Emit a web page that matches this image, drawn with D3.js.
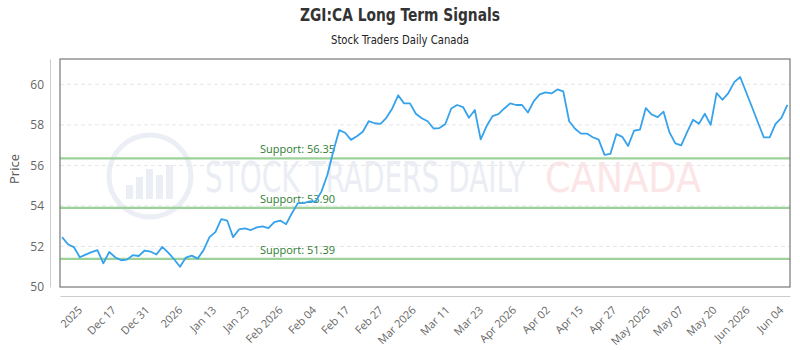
<!DOCTYPE html>
<html>
<head>
<meta charset="utf-8">
<script src="https://cdn.jsdelivr.net/npm/d3@7"></script>
<style>
  body { margin: 0; background: #fff; }
  svg { display: block; }
</style>
</head>
<body>
<svg id="chart" width="800" height="350"></svg>
<script>
"use strict";

// Daily closes, oldest first
const prices = [
    52.46, 52.11, 51.97, 51.47, 51.60, 51.72, 51.82, 51.17, 51.73, 51.47,
    51.32, 51.35, 51.57, 51.53, 51.80, 51.75, 51.60, 51.98, 51.70, 51.37,
    51.00, 51.45, 51.55, 51.40, 51.82, 52.46, 52.71, 53.35, 53.28, 52.46,
    52.84, 52.89, 52.81, 52.94, 52.99, 52.90, 53.20, 53.28, 53.10, 53.65,
    54.14, 54.14, 54.22, 54.22, 54.72, 55.54, 56.70, 57.74, 57.61, 57.26,
    57.44, 57.66, 58.18, 58.08, 58.05, 58.35, 58.81, 59.46, 59.06, 59.06,
    58.55, 58.33, 58.18, 57.82, 57.84, 58.04, 58.81, 58.98, 58.88, 58.35,
    58.73, 57.28, 57.94, 58.43, 58.53, 58.81, 59.06, 58.98, 58.98, 58.61,
    59.17, 59.50, 59.60, 59.55, 59.75, 59.65, 58.18, 57.81, 57.57, 57.57,
    57.39, 57.27, 56.52, 56.57, 57.54, 57.41, 56.96, 57.71, 57.76, 58.83,
    58.51, 58.38, 58.65, 57.64, 57.09, 56.99, 57.64, 58.25, 58.05, 58.55,
    58.00, 59.57, 59.24, 59.57, 60.11, 60.36, 59.62, 58.88, 58.13, 57.39,
    57.38, 58.05, 58.35, 58.99
];

// Support levels
const supports = [56.35, 53.90, 51.39];

// X tick labels and where they sit (in data index units)
const tickLabels = ["2025", "Dec 17", "Dec 31", "2026", "Jan 13", "Jan 23", "Feb 2026",
    "Feb 04", "Feb 17", "Feb 27", "Mar 2026", "Mar 11", "Mar 23", "Apr 2026", "Apr 02",
    "Apr 15", "Apr 27", "May 2026", "May 07", "May 20", "Jun 2026", "Jun 04"];
const tickAt = [3.0, 8.7, 14.4, 20.0, 25.7, 31.3, 37.0, 42.7, 48.3, 54.0, 59.6,
    65.3, 71.0, 76.6, 82.3, 87.9, 93.6, 99.3, 104.9, 110.6, 116.2, 121.9];

// Y ticks
const yTicks = [50, 52, 54, 56, 58, 60];

const margin = {top: 59, right: 10, bottom: 63, left: 60},
    width = 800 - margin.left - margin.right,
    height = 350 - margin.top - margin.bottom;

const svg = d3.select("#chart");

// Titles
svg.append("text")
    .attr("x", 400).attr("y", 21)
    .attr("text-anchor", "middle")
    .attr("textLength", 200)
    .attr("lengthAdjust", "spacingAndGlyphs")
    .style("font-family", "'DejaVu Sans Condensed', sans-serif")
    .style("font-weight", "bold")
    .style("font-size", "17px")
    .style("fill", "#333")
    .text("ZGI:CA Long Term Signals");

svg.append("text")
    .attr("x", 400).attr("y", 44)
    .attr("text-anchor", "middle")
    .attr("textLength", 138)
    .attr("lengthAdjust", "spacingAndGlyphs")
    .style("font-family", "'DejaVu Sans Condensed', sans-serif")
    .style("font-size", "12px")
    .style("fill", "#222")
    .text("Stock Traders Daily Canada");

const x = d3.scaleLinear()
    .domain([-0.35, prices.length - 1 + 0.45])
    .range([0, width]);

const y = d3.scaleLinear()
    .domain([50, 61.25])
    .range([height, 0]);

const plot = svg.append("g")
    .attr("transform", "translate(" + margin.left + "," + margin.top + ")");

// Watermark
const wm = plot.append("g").attr("opacity", 0.6);
wm.append("circle")
    .attr("cx", 90).attr("cy", 117).attr("r", 41)
    .attr("fill", "none")
    .attr("stroke", "#dfe6f0")
    .attr("stroke-width", 5);
wm.selectAll("rect.wmbar")
    .data([14, 22, 30, 24, 34])
    .enter()
    .append("rect")
    .attr("class", "wmbar")
    .attr("x", (d, i) => 66 + i * 10)
    .attr("y", (d) => 140 - d)
    .attr("width", 7)
    .attr("height", (d) => d)
    .attr("fill", "#dfe6f0");
wm.append("text")
    .attr("x", 145).attr("y", 133)
    .attr("textLength", 320)
    .attr("lengthAdjust", "spacingAndGlyphs")
    .style("font-family", "'DejaVu Sans Condensed', sans-serif")
    .style("font-size", "42px")
    .style("fill", "#dde3ee")
    .text("STOCK TRADERS DAILY");
wm.append("text")
    .attr("x", 485).attr("y", 133)
    .attr("textLength", 156)
    .attr("lengthAdjust", "spacingAndGlyphs")
    .style("font-family", "'DejaVu Sans', sans-serif")
    .style("font-size", "40px")
    .style("fill", "#fbd5d8")
    .text("CANADA");

// Dashed gridlines
plot.selectAll("line.grid")
    .data(yTicks.slice(1))
    .enter()
    .append("line")
    .attr("class", "grid")
    .attr("x1", 0).attr("x2", width)
    .attr("y1", (d) => y(d)).attr("y2", (d) => y(d))
    .attr("stroke", "#e6e6e6")
    .attr("stroke-dasharray", "4,3");

// Support lines + labels
plot.selectAll("line.support")
    .data(supports)
    .enter()
    .append("line")
    .attr("class", "support")
    .attr("x1", 0).attr("x2", width)
    .attr("y1", (d) => y(d)).attr("y2", (d) => y(d))
    .attr("stroke", "#9dd19a")
    .attr("stroke-width", 2.2);

plot.selectAll("text.support")
    .data(supports)
    .enter()
    .append("text")
    .attr("class", "support")
    .attr("x", 200)
    .attr("y", (d) => y(d) - 5)
    .style("font-family", "'Open Sans', sans-serif")
    .style("font-size", "11px")
    .style("fill", "#2e7d32")
    .text((d) => `Support: ${d.toFixed(2)}`);

// Price line
plot.append("path")
    .datum(prices)
    .attr("fill", "none")
    .attr("stroke", "#36a2eb")
    .attr("stroke-width", 1.8)
    .attr("stroke-linejoin", "round")
    .attr("d", d3.line().x((d, i) => x(i)).y((d) => y(d)));

// Plot frame
plot.append("rect")
    .attr("x", 0).attr("y", 0)
    .attr("width", width).attr("height", height)
    .attr("fill", "none")
    .attr("stroke", "#777")
    .attr("stroke-width", 1.2);

// Y axis, offset to the left of the frame
const yAxis = plot.append("g")
    .attr("transform", "translate(-10,0)")
    .call(d3.axisLeft(y).tickValues(yTicks).tickSize(0).tickPadding(6));
yAxis.select(".domain").attr("stroke", "#ccc");
yAxis.selectAll("text")
    .style("font-family", "'Open Sans', sans-serif")
    .style("font-size", "12px")
    .style("fill", "#666");

// X axis, offset below the frame
const xAxis = plot.append("g")
    .attr("transform", "translate(0," + (height + 9) + ")")
    .call(d3.axisBottom(x).tickValues(tickAt).tickSize(0)
        .tickFormat((d, i) => tickLabels[i]));
xAxis.select(".domain").attr("stroke", "#ccc");
xAxis.selectAll("text")
    .style("font-family", "'Open Sans', sans-serif")
    .style("font-size", "11px")
    .style("fill", "#666")
    .attr("text-anchor", "end")
    .attr("y", 0)
    .attr("dx", 0)
    .attr("dy", "0.35em")
    .attr("transform", "translate(0,12) rotate(-45)");

// Y title
svg.append("text")
    .attr("transform", "translate(19," + (margin.top + height / 2 - 4) + ") rotate(-90)")
    .attr("text-anchor", "middle")
    .style("font-family", "'Open Sans', sans-serif")
    .style("font-size", "13px")
    .style("fill", "#555")
    .text("Price");
</script>
</body>
</html>
